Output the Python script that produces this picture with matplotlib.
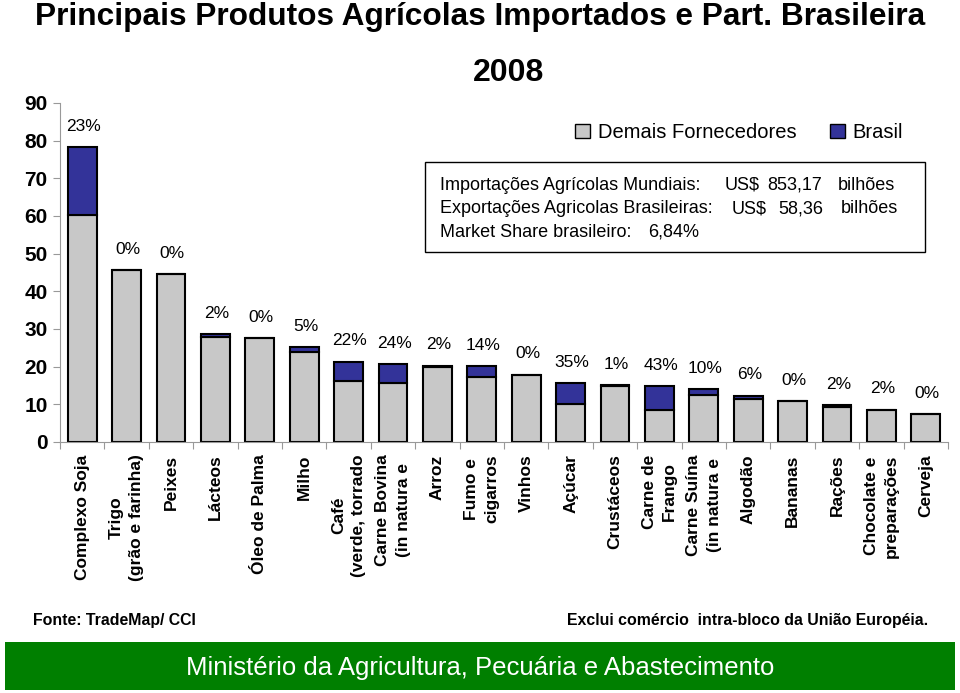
import matplotlib.pyplot as plt
from matplotlib.patches import Rectangle, Patch

plt.rcParams['font.family'] = ['Liberation Sans', 'DejaVu Sans']

produtos = ["Complexo Soja", "Trigo\n(grão e farinha)", "Peixes", "Lácteos",
            "Óleo de Palma", "Milho", "Café\n(verde, torrado",
            "Carne Bovina\n(in natura e", "Arroz", "Fumo e\ncigarros", "Vinhos",
            "Açúcar", "Crustáceos", "Carne de\nFrango", "Carne Suína\n(in natura e",
            "Algodão", "Bananas", "Rações", "Chocolate e\npreparações", "Cerveja"]

# US$ bilhoes
demais = [60.2, 45.6, 44.5, 28.0, 27.5, 23.8, 16.3, 15.6, 19.9, 17.2, 17.9,
          10.2, 14.8, 8.5, 12.5, 11.5, 10.8, 9.4, 8.6, 7.3]
brasil = [18.0, 0.0, 0.0, 0.6, 0.0, 1.4, 5.0, 5.1, 0.4, 2.9, 0.0,
          5.4, 0.2, 6.3, 1.6, 0.8, 0.0, 0.3, 0.0, 0.0]
part_br = ["23%", "0%", "0%", "2%", "0%", "5%", "22%", "24%", "2%", "14%", "0%",
           "35%", "1%", "43%", "10%", "6%", "0%", "2%", "2%", "0%"]

cinza = "#c8c8c8"
azul = "#333399"

fig = plt.figure(figsize=(9.6, 6.93), dpi=100)
ax = fig.add_axes([0.0625, 0.3622, 0.925, 0.4892])

x = list(range(len(produtos)))
ax.bar(x, demais, width=0.65, color=cinza, edgecolor="black", linewidth=1.5)
ax.bar(x, brasil, width=0.65, bottom=demais, color=azul, edgecolor="black", linewidth=1.5)

for i in x:
    ax.annotate(part_br[i], (i, demais[i] + brasil[i]), xytext=(1, 15),
                textcoords="offset points", ha="center", va="center",
                fontsize=12.5)

ax.set_xlim(-0.5, len(produtos) - 0.5)
ax.set_ylim(0, 90)
ax.set_yticks(range(0, 91, 10))
ax.tick_params(axis="y", labelsize=15, length=5, color="#999999", width=0.8, pad=4)
for lb in ax.get_yticklabels():
    lb.set_fontweight("bold")

ax.set_xticks(x)
ax.set_xticklabels(produtos, rotation=90, fontsize=12.5, fontweight="bold",
                   ha="center", va="top", multialignment="center", linespacing=1.45)
ax.tick_params(axis="x", length=0, pad=9)
ax.set_xticks([i - 0.5 for i in range(len(produtos) + 1)], minor=True)
ax.tick_params(axis="x", which="minor", length=5, color="#999999", width=0.8)

for s in ["top", "right"]:
    ax.spines[s].set_visible(False)
for s in ["left", "bottom"]:
    ax.spines[s].set_color("#999999")
    ax.spines[s].set_linewidth(0.8)

leg = ax.legend(handles=[Patch(facecolor=cinza, edgecolor="black", label="Demais Fornecedores"),
                         Patch(facecolor=azul, edgecolor="black", label="Brasil")],
                loc="upper left", bbox_to_anchor=(0.56, 0.995), ncol=2, frameon=False,
                prop={"size": 14.5}, handlelength=0.7, handleheight=0.7,
                handletextpad=0.4, columnspacing=1.7)

fig.text(0.5, 0.975, "Principais Produtos Agrícolas Importados e Part. Brasileira",
         ha="center", va="center", fontsize=22.8, fontweight="bold")
fig.text(0.530, 0.895, "2008", ha="center", va="center", fontsize=23, fontweight="bold")

# quadro de informacoes
fig.patches.append(Rectangle((425 / 960, 1 - 252 / 693), 500 / 960, 90 / 693,
                             transform=fig.transFigure, facecolor="white",
                             edgecolor="black", linewidth=1))
linhas = [
    [(440, "Importações Agrícolas Mundiais:"), (725, "US$"), (767, "853,17"), (838, "bilhões")],
    [(440, "Exportações Agricolas Brasileiras:"), (732, "US$"), (778, "58,36"), (841, "bilhões")],
    [(440, "Market Share brasileiro:"), (648, "6,84%")],
]
for k, linha in enumerate(linhas):
    yy = 185 + k * 23.5
    for xx, t in linha:
        fig.text(xx / 960, 1 - yy / 693, t, ha="left", va="center", fontsize=13)

fig.text(33 / 960, 1 - 620 / 693, "Fonte: TradeMap/ CCI", ha="left", va="center",
         fontsize=11.4, fontweight="bold", family=["Liberation Sans Narrow", "Liberation Sans"])
fig.text(928 / 960, 1 - 620 / 693, "Exclui comércio  intra-bloco da União Européia.",
         ha="right", va="center", fontsize=11.4, fontweight="bold",
         family=["Liberation Sans Narrow", "Liberation Sans"])

fig.patches.append(Rectangle((5 / 960, 1 - 690 / 693), 950 / 960, 48 / 693,
                             transform=fig.transFigure, facecolor="#007f00",
                             edgecolor="none"))
fig.text(0.5, 1 - 668 / 693, "Ministério da Agricultura, Pecuária e Abastecimento",
         ha="center", va="center", fontsize=18.5, color="white")

fig.savefig("out.png", dpi=100)
